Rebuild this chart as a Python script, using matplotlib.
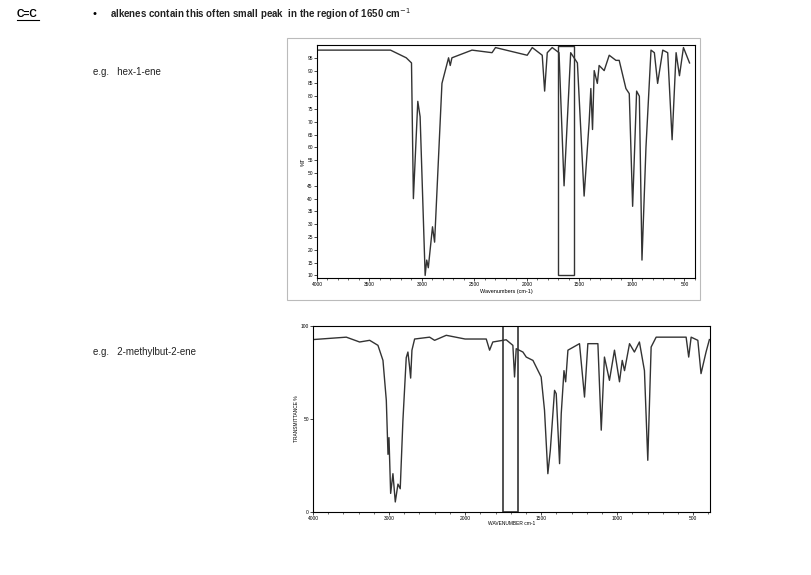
import matplotlib.pyplot as plt
import matplotlib.patches as patches
import numpy as np

plt.rcParams['font.family'] = ['Liberation Sans', 'DejaVu Sans']

# hex-1-ene spectrum (wavenumber, %T)
hex_wn = [4000, 3300, 3150, 3100, 3082, 3040, 3018, 2970, 2955, 2940, 2900, 2880, 2810,
          2747, 2731, 2715, 2524, 2333, 2300, 1998, 1950, 1855, 1832, 1807, 1760, 1695,
          1647, 1584, 1520, 1456, 1408, 1392, 1376, 1360, 1330, 1313, 1265, 1217, 1153,
          1122, 1058, 1026, 994, 956, 930, 905, 867, 819, 787, 756, 707, 660, 618, 580,
          548, 510, 452]
hex_t = [98, 98, 95, 93, 40, 78, 72, 10, 16, 13, 29, 23, 85, 95, 92, 95, 98, 97, 99, 96,
         99, 96, 82, 97, 99, 97, 45, 97, 93, 41, 70, 83, 67, 90, 85, 92, 90, 96, 94, 94,
         83, 81, 37, 82, 80, 16, 60, 98, 97, 85, 98, 97, 63, 97, 88, 99, 93]

# 2-methylbut-2-ene spectrum (wavenumber, %T)
mb_wn = [4000, 3562, 3387, 3255, 3146, 3080, 3036, 3014, 3001, 2979, 2949, 2918, 2883,
         2853, 2818, 2774, 2752, 2730, 2716, 2699, 2664, 2467, 2401, 2248, 2000, 1861,
         1839, 1818, 1730, 1686, 1675, 1664, 1620, 1598, 1554, 1500, 1478, 1456, 1440,
         1412, 1401, 1379, 1368, 1350, 1339, 1324, 1248, 1215, 1193, 1127, 1105, 1084,
         1051, 1018, 985, 967, 952, 919, 887, 854, 821, 799, 777, 744, 547, 530, 514,
         470, 449, 416, 394]
mb_t = [92.7, 94, 91.4, 92.3, 89.6, 81.5, 60, 31, 40, 10, 20.6, 5.4, 15, 12.5, 49, 83,
        86, 78, 72, 87, 93, 94, 92.3, 95, 93, 93, 87, 91.4, 92.6, 89.6, 72.6, 87.8, 86,
        83.3, 81.5, 72.6, 54.7, 20.6, 33, 65.4, 63.6, 26, 52.9, 76, 70, 87, 90.5, 61.8,
        90.5, 90.5, 44, 83.3, 70.8, 87, 70, 81.5, 76, 90.5, 86, 91.4, 76, 27.8, 88.7,
        94, 94, 83.3, 94, 92.3, 74.4, 86, 92.7]


def fwd(w):
    w = np.asarray(w, dtype=float)
    return np.where(w <= 2000, w, 2000 + (w - 2000) / 2)


def inv(u):
    u = np.asarray(u, dtype=float)
    return np.where(u <= 2000, u, 2000 + (u - 2000) * 2)


fig = plt.figure(figsize=(8.12, 5.75), dpi=100)
fig.patch.set_facecolor("white")

# page text
fig.text(17 / 812, 1 - 14 / 575, "C=C", fontsize=7.5, fontweight="bold", va="center")
fig.add_artist(plt.Line2D([17 / 812, 39 / 812], [1 - 20 / 575] * 2, color="black", lw=0.8))
fig.text(93 / 812, 1 - 14 / 575, "•", fontsize=8, va="center")
fig.text(110 / 812, 1 - 14 / 575, "alkenes contain this often small peak  in the region of 1650 cm$^{-1}$",
         fontsize=7, va="center", fontweight="bold", color="#222222")
fig.text(93 / 812, 1 - 72 / 575, "e.g.   hex-1-ene", fontsize=7, va="center", color="#222222")
fig.text(93 / 812, 1 - 352 / 575, "e.g.   2-methylbut-2-ene", fontsize=7, va="center", color="#222222")

# frame around top spectrum
fig.add_artist(patches.Rectangle((287 / 812, 1 - 300 / 575), 413 / 812, 262 / 575,
                                 transform=fig.transFigure, fill=False, ec="#bbbbbb", lw=0.8))

# top spectrum
ax1 = fig.add_axes([317 / 812, 1 - 278 / 575, 378 / 812, 233 / 575])
ax1.plot(hex_wn, hex_t, color="#333333", lw=1.0)
ax1.set_xlim(4000, 400)
ax1.set_ylim(9, 100)
ax1.set_xticks([4000, 3500, 3000, 2500, 2000, 1500, 1000, 500])
ax1.set_xticks(np.arange(4000, 399, -100), minor=True)
ax1.set_yticks(np.arange(10, 100, 5))
ax1.tick_params(labelsize=3.5, length=2, width=0.5, pad=1)
ax1.tick_params(which="minor", length=1.2, width=0.4)
ax1.set_xlabel("Wavenumbers (cm-1)", fontsize=4, labelpad=1)
ax1.set_ylabel("%T", fontsize=4, labelpad=1)
ax1.add_patch(patches.Rectangle((1550, 10), 150, 89.5, fill=False, ec="#333333", lw=1.0))
for s in ax1.spines.values():
    s.set_linewidth(0.8)

# bottom spectrum, split scale above 2000
ax2 = fig.add_axes([313 / 812, 1 - 512 / 575, 397 / 812, 186 / 575])
ax2.set_xscale("function", functions=(fwd, inv))
ax2.plot(mb_wn, mb_t, color="#333333", lw=1.0)
ax2.set_xlim(4000, 390)
ax2.set_ylim(0, 100)
ax2.set_xticks([4000, 3000, 2000, 1500, 1000, 500])
ax2.set_xticks(list(range(4000, 2000, -200)) + list(range(2000, 390, -100)), minor=True)
ax2.set_yticks([0, 50, 100])
ax2.tick_params(labelsize=3.5, length=2, width=0.5, pad=1)
ax2.tick_params(which="minor", length=1.2, width=0.4)
ax2.set_xlabel("WAVENUMBER cm-1", fontsize=3.5, labelpad=0)
ax2.set_ylabel("TRANSMITTANCE %", fontsize=3.5, labelpad=1)
ax2.add_patch(patches.Rectangle((1650, 0), 100, 100, fill=False, ec="#333333", lw=1.2))
for s in ax2.spines.values():
    s.set_linewidth(0.8)

fig.savefig("out.png", dpi=100)
